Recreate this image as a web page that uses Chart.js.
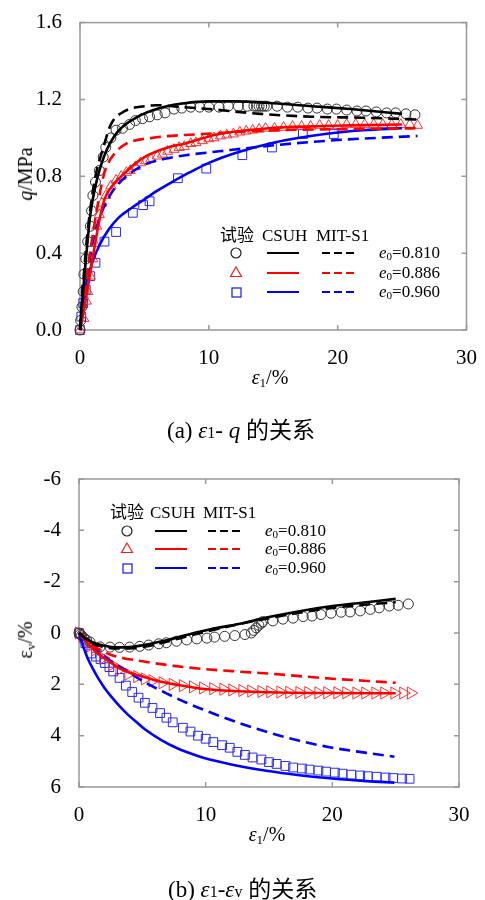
<!DOCTYPE html>
<html>
<head>
<meta charset="utf-8">
<script src="https://cdn.jsdelivr.net/npm/chart.js@4.4.0/dist/chart.umd.min.js"></script>
<style>
  body { margin: 0; background: #fff; width: 485px; height: 900px; position: relative; overflow: hidden;
         font-family: "Liberation Serif", "Noto Sans CJK SC", serif; color: #000; }
  canvas { position: absolute; left: 0; }
  .t { position: absolute; white-space: nowrap; line-height: 1; transform: translateY(-50%); }
  .lg { font-size: 17px; }
  .s { position: absolute; overflow: visible; }
  .ytitle { position: absolute; white-space: nowrap; line-height: 1; font-size: 20px;
            transform: translate(-50%, -50%) rotate(-90deg); }
  .xtitle { position: absolute; white-space: nowrap; line-height: 1; font-size: 20px;
            transform: translate(-50%, -50%); }
  .cap { font-size: 23px; }
  sub { font-size: 0.65em; vertical-align: -0.25em; }
</style>
</head>
<body>

<canvas id="chartA" width="485" height="400" style="top:0"></canvas>
<canvas id="chartB" width="485" height="410" style="top:450px"></canvas>

<!-- axis titles -->
<div class="ytitle" style="left:25px;top:174px"><i>q</i>/MPa</div>
<div class="xtitle" style="left:270px;top:378px"><i>ε</i><sub>1</sub>/%</div>
<div class="ytitle" style="left:26px;top:640px">ε<sub>v</sub>/%</div>
<div class="xtitle" style="left:267px;top:835px"><i>ε</i><sub>1</sub>/%</div>

<!-- captions -->
<div class="t cap" style="left:167px;top:430px">(a) <i>ε</i><span style="font-size:16px">1</span>- <i>q</i> 的关系</div>
<div class="t cap" style="left:168px;top:889px">(b) <i>ε</i><span style="font-size:16px">1</span>-<i>ε</i><span style="font-size:16px">v</span> 的关系</div>

<!-- legend (a) -->
<div class="t lg" style="left:220px;top:235px">试验</div>
<div class="t lg" style="left:262px;top:235px">CSUH</div>
<div class="t lg" style="left:316px;top:235px">MIT-S1</div>
<svg class="s" style="left:230px;top:247px" width="12" height="12"><circle cx="6" cy="6" r="5" fill="none" stroke="#222" stroke-width="1.2"/></svg>
<svg class="s" style="left:230px;top:266px" width="12" height="12"><polygon points="6,1 11.5,10.5 0.5,10.5" fill="none" stroke="#f02020" stroke-width="1.2"/></svg>
<svg class="s" style="left:231px;top:287px" width="11" height="11"><rect x="1" y="1" width="9" height="9" fill="none" stroke="#1515ee" stroke-width="1.2"/></svg>
<svg class="s" style="left:267px;top:248px" width="32" height="10"><line x1="0" y1="5" x2="32" y2="5" stroke="#000" stroke-width="2"/></svg>
<svg class="s" style="left:267px;top:268px" width="32" height="10"><line x1="0" y1="5" x2="32" y2="5" stroke="#ff0000" stroke-width="2"/></svg>
<svg class="s" style="left:267px;top:287px" width="32" height="10"><line x1="0" y1="5" x2="32" y2="5" stroke="#0000ff" stroke-width="2"/></svg>
<svg class="s" style="left:322px;top:248px" width="32" height="10"><line x1="0" y1="5" x2="32" y2="5" stroke="#000" stroke-width="2" stroke-dasharray="8 4"/></svg>
<svg class="s" style="left:322px;top:268px" width="32" height="10"><line x1="0" y1="5" x2="32" y2="5" stroke="#ff0000" stroke-width="2" stroke-dasharray="8 4"/></svg>
<svg class="s" style="left:322px;top:287px" width="32" height="10"><line x1="0" y1="5" x2="32" y2="5" stroke="#0000ff" stroke-width="2" stroke-dasharray="8 4"/></svg>
<div class="t lg" style="left:379px;top:253px"><i>e</i><sub>0</sub>=0.810</div>
<div class="t lg" style="left:379px;top:273px"><i>e</i><sub>0</sub>=0.886</div>
<div class="t lg" style="left:379px;top:292px"><i>e</i><sub>0</sub>=0.960</div>

<!-- legend (b) -->
<div class="t lg" style="left:110px;top:512px">试验</div>
<div class="t lg" style="left:150px;top:512px">CSUH</div>
<div class="t lg" style="left:203px;top:512px">MIT-S1</div>
<svg class="s" style="left:121px;top:525px" width="12" height="12"><circle cx="6" cy="6" r="5" fill="none" stroke="#222" stroke-width="1.2"/></svg>
<svg class="s" style="left:121px;top:542px" width="12" height="12"><polygon points="6,1 11.5,10.5 0.5,10.5" fill="none" stroke="#f02020" stroke-width="1.2"/></svg>
<svg class="s" style="left:122px;top:563px" width="11" height="11"><rect x="1" y="1" width="9" height="9" fill="none" stroke="#1515ee" stroke-width="1.2"/></svg>
<svg class="s" style="left:155px;top:526px" width="32" height="10"><line x1="0" y1="5" x2="32" y2="5" stroke="#000" stroke-width="2"/></svg>
<svg class="s" style="left:155px;top:544px" width="32" height="10"><line x1="0" y1="5" x2="32" y2="5" stroke="#ff0000" stroke-width="2"/></svg>
<svg class="s" style="left:155px;top:563px" width="32" height="10"><line x1="0" y1="5" x2="32" y2="5" stroke="#0000ff" stroke-width="2"/></svg>
<svg class="s" style="left:208px;top:526px" width="32" height="10"><line x1="0" y1="5" x2="32" y2="5" stroke="#000" stroke-width="2" stroke-dasharray="8 4"/></svg>
<svg class="s" style="left:208px;top:544px" width="32" height="10"><line x1="0" y1="5" x2="32" y2="5" stroke="#ff0000" stroke-width="2" stroke-dasharray="8 4"/></svg>
<svg class="s" style="left:208px;top:563px" width="32" height="10"><line x1="0" y1="5" x2="32" y2="5" stroke="#0000ff" stroke-width="2" stroke-dasharray="8 4"/></svg>
<div class="t lg" style="left:265px;top:531px"><i>e</i><sub>0</sub>=0.810</div>
<div class="t lg" style="left:265px;top:549px"><i>e</i><sub>0</sub>=0.886</div>
<div class="t lg" style="left:265px;top:568px"><i>e</i><sub>0</sub>=0.960</div>

<script>
// ---------- shared axis ticks ----------
const xTicks = [0, 10, 20, 30];
const qTicks = [0, 0.4, 0.8, 1.2, 1.6];
const evTicks = [-6, -4, -2, 0, 2, 4, 6];

// ---------- (a) eps1 - q : test data ----------
const aTest810X = [0, 0.05, 0.15, 0.25, 0.3, 0.45, 0.6, 0.8, 0.9, 1.0, 1.2, 1.5, 1.8, 2.0, 2.4, 2.8, 3.3, 3.85, 4.3, 4.85,
  5.4, 6.0, 6.6, 7.3, 7.9, 8.6, 9.3, 10.0, 10.8, 11.5, 12.3, 13.0, 13.5, 13.7, 13.9, 14.1, 14.3, 14.5, 15.3, 16.1,
  16.9, 17.7, 18.4, 19.2, 19.9, 20.7, 21.5, 22.2, 23.0, 23.8, 24.5, 25.3, 26.0];
const aTest810Y = [0, 0.05, 0.12, 0.2, 0.29, 0.37, 0.46, 0.54, 0.62, 0.70, 0.77, 0.83, 0.90, 0.95, 1.00, 1.04, 1.05, 1.07, 1.09, 1.10,
  1.11, 1.12, 1.13, 1.15, 1.155, 1.16, 1.16, 1.16, 1.16, 1.165, 1.165, 1.165, 1.165, 1.165, 1.165, 1.165, 1.165, 1.165, 1.165, 1.16,
  1.16, 1.155, 1.155, 1.15, 1.15, 1.145, 1.14, 1.14, 1.135, 1.13, 1.13, 1.125, 1.12];

const aTest886X = [0, 0.3, 0.5, 0.6, 0.8, 1.0, 1.15, 1.3, 1.5, 1.7, 2.0, 2.4, 2.8, 3.2, 3.6, 3.9, 4.3, 4.7, 5.1, 5.5,
  6.0, 6.4, 6.8, 7.3, 7.7, 8.1, 8.6, 9.0, 9.5, 10.0, 10.4, 10.9, 11.4, 11.9, 12.4, 12.9, 13.4, 13.9, 14.4, 15.1,
  15.8, 16.5, 17.2, 17.9, 18.6, 19.3, 20.0, 20.7, 21.4, 22.1, 22.8, 23.5, 24.2, 24.9, 25.6, 26.2];
const aTest886Y = [0, 0.06, 0.15, 0.2, 0.28, 0.37, 0.45, 0.54, 0.6, 0.66, 0.70, 0.75, 0.78, 0.80, 0.82, 0.83, 0.85, 0.87, 0.88, 0.89,
  0.905, 0.915, 0.93, 0.94, 0.95, 0.955, 0.97, 0.975, 0.985, 0.995, 1.0, 1.01, 1.015, 1.02, 1.03, 1.035, 1.04, 1.045, 1.05, 1.05,
  1.055, 1.06, 1.06, 1.06, 1.065, 1.065, 1.065, 1.07, 1.07, 1.07, 1.07, 1.07, 1.07, 1.07, 1.07, 1.065];

const aTest960X = [0, 0.1, 0.25, 0.45, 0.8, 1.2, 1.9, 2.8, 4.1, 4.9, 5.4, 7.6, 9.8, 12.6, 14.9, 17.3, 19.7];
const aTest960Y = [0, 0.07, 0.14, 0.21, 0.28, 0.35, 0.46, 0.51, 0.61, 0.65, 0.67, 0.79, 0.84, 0.91, 0.95, 1.02, 1.02];

// ---------- (a) model curves ----------
const aCsuh810X = [0, 0.2, 0.5, 0.8, 1.2, 1.9, 2.9, 4.5, 6.2, 8.1, 10, 12, 15, 18, 21, 25];
const aCsuh810Y = [0, 0.17, 0.4, 0.6, 0.75, 0.91, 1.03, 1.11, 1.155, 1.18, 1.19, 1.19, 1.18, 1.165, 1.15, 1.125];
const aMit810X = [0, 0.2, 0.5, 0.8, 1.2, 1.77, 2.4, 3.5, 5.0, 6.0, 8, 10, 14, 18, 22, 26.2];
const aMit810Y = [0, 0.2, 0.45, 0.63, 0.8, 0.94, 1.07, 1.14, 1.165, 1.17, 1.16, 1.15, 1.125, 1.11, 1.105, 1.095];

const aCsuh886X = [0, 0.3, 0.6, 1.0, 1.5, 1.9, 2.5, 3.2, 4, 5, 6.8, 8.1, 10.8, 14.6, 18, 21, 25];
const aCsuh886Y = [0, 0.1, 0.22, 0.38, 0.57, 0.68, 0.75, 0.80, 0.85, 0.90, 0.95, 0.97, 1.02, 1.05, 1.06, 1.065, 1.07];
const aMit886X = [0, 0.3, 0.6, 1.0, 1.4, 1.9, 2.7, 3.6, 5.6, 9.5, 15.4, 20, 26.2];
const aMit886Y = [0, 0.15, 0.32, 0.5, 0.66, 0.82, 0.92, 0.97, 1.0, 1.02, 1.04, 1.045, 1.05];

const aCsuh960X = [0, 0.2, 0.5, 1.0, 1.5, 2.2, 3.0, 4.0, 5.0, 6.0, 7.0, 8.5, 10, 12, 15, 19, 22, 25];
const aCsuh960Y = [0, 0.13, 0.25, 0.36, 0.44, 0.52, 0.585, 0.635, 0.68, 0.725, 0.765, 0.82, 0.87, 0.92, 0.975, 1.02, 1.04, 1.05];
const aMit960X = [0, 0.3, 0.6, 1.0, 1.5, 2.0, 2.5, 3.5, 5.0, 6.5, 8.2, 10.8, 13.4, 16.4, 20.3, 26.2];
const aMit960Y = [0, 0.15, 0.3, 0.46, 0.58, 0.66, 0.72, 0.795, 0.86, 0.89, 0.91, 0.93, 0.95, 0.97, 0.99, 1.01];

// ---------- (b) eps1 - epsv : test data ----------
const bTest810X = [0, 0.1, 0.2, 0.4, 0.6, 0.87, 1.66, 2.45, 3.2, 4.0, 4.8, 5.5, 6.3, 6.9, 7.7, 8.5, 9.3, 10.1, 10.7, 11.5,
  12.3, 13.1, 13.6, 13.8, 14.0, 14.2, 14.4, 14.5, 15.3, 16.1, 16.9, 17.7, 18.4, 19.1, 19.9, 20.7, 21.4, 22.2, 23.0, 23.7,
  24.5, 25.2, 26.0];
const bTest810Y = [0, 0.05, 0.1, 0.2, 0.28, 0.35, 0.54, 0.55, 0.56, 0.55, 0.52, 0.47, 0.42, 0.38, 0.32, 0.27, 0.23, 0.2, 0.16, 0.13,
  0.1, 0.06, 0.0, -0.1, -0.2, -0.3, -0.38, -0.44, -0.47, -0.54, -0.58, -0.64, -0.66, -0.72, -0.77, -0.81, -0.82, -0.86, -0.92, -0.98,
  -1.05, -1.08, -1.13];

const bTest886X = [0, 0.3, 0.6, 0.9, 1.26, 1.9, 2.6, 3.2, 3.9, 4.6, 5.2, 5.8, 6.6, 7.4, 8.2, 9.0, 9.8, 10.6, 11.4, 12.1,
  12.9, 13.6, 14.4, 15.1, 15.9, 16.6, 17.4, 18.1, 18.9, 19.6, 20.4, 21.1, 21.9, 22.6, 23.4, 24.1, 24.9, 25.6, 26.2];
const bTest886Y = [0, 0.15, 0.35, 0.5, 0.66, 0.98, 1.24, 1.42, 1.6, 1.7, 1.79, 1.86, 1.94, 2.0, 2.05, 2.1, 2.14, 2.17, 2.19, 2.22,
  2.24, 2.26, 2.28, 2.29, 2.3, 2.31, 2.32, 2.32, 2.33, 2.33, 2.33, 2.33, 2.34, 2.34, 2.34, 2.34, 2.34, 2.34, 2.34];

const bTest960X = [0, 0.5, 0.95, 1.35, 1.7, 2.05, 2.4, 2.7, 3.2, 3.7, 4.2, 4.7, 5.2, 5.8, 6.4, 6.9, 7.4, 8.2, 8.8, 9.4,
  10.0, 10.6, 11.3, 11.9, 12.5, 13.1, 13.7, 14.4, 15.0, 15.6, 16.3, 16.9, 17.6, 18.2, 18.9, 19.5, 20.2, 20.8, 21.5, 22.2,
  22.8, 23.5, 24.2, 24.8, 25.5, 26.1];
const bTest960Y = [0, 0.4, 0.8, 0.92, 1.02, 1.17, 1.33, 1.5, 1.75, 2.05, 2.3, 2.52, 2.72, 2.92, 3.12, 3.3, 3.48, 3.69, 3.84, 4.0,
  4.12, 4.25, 4.37, 4.47, 4.63, 4.75, 4.85, 4.93, 5.03, 5.1, 5.18, 5.24, 5.28, 5.32, 5.36, 5.4, 5.44, 5.48, 5.52, 5.55,
  5.58, 5.6, 5.63, 5.65, 5.67, 5.68];

// ---------- (b) model curves ----------
const bCsuh810X = [0, 0.5, 1, 2, 3, 4, 5, 6, 7, 7.8, 9.5, 10.4, 12.6, 14.8, 17.4, 20, 22.7, 25];
const bCsuh810Y = [0, 0.2, 0.35, 0.5, 0.56, 0.55, 0.48, 0.38, 0.27, 0.17, -0.05, -0.15, -0.35, -0.6, -0.85, -1.05, -1.2, -1.33];
const bMit810X = [0, 0.5, 1, 2, 3, 4, 5, 6, 7, 8, 10, 12.5, 15, 17.5, 20, 22.5, 25];
const bMit810Y = [0, 0.22, 0.4, 0.55, 0.6, 0.6, 0.55, 0.45, 0.33, 0.2, -0.05, -0.33, -0.58, -0.8, -0.98, -1.1, -1.2];

const bCsuh886X = [0, 0.5, 1.3, 2.5, 3.2, 4.0, 5.2, 6.5, 7.8, 9.0, 10.4, 12.6, 15, 20, 25];
const bCsuh886Y = [0, 0.3, 0.72, 1.15, 1.38, 1.55, 1.72, 1.9, 2.02, 2.12, 2.2, 2.27, 2.31, 2.34, 2.35];
const bMit886X = [0, 0.7, 1.5, 2.5, 3.5, 4.6, 6, 7.5, 9.8, 12.5, 15, 17.4, 20, 22.5, 25];
const bMit886Y = [0, 0.4, 0.62, 0.85, 0.98, 1.07, 1.18, 1.28, 1.4, 1.5, 1.58, 1.68, 1.78, 1.86, 1.94];

const bCsuh960X = [0, 0.35, 0.7, 1.1, 1.5, 2.0, 2.5, 3.2, 3.9, 4.6, 5.2, 6.5, 7.8, 9.2, 10.4, 12.6, 14.8, 17.4, 20, 22.7, 24.9];
const bCsuh960Y = [0, 0.55, 1.0, 1.4, 1.75, 2.13, 2.45, 2.85, 3.2, 3.5, 3.75, 4.17, 4.5, 4.76, 4.94, 5.18, 5.37, 5.54, 5.67, 5.77, 5.83];
const bMit960X = [0, 0.7, 1.5, 2.5, 3.5, 5.2, 6.9, 8.5, 10.4, 12.6, 14.8, 17.4, 20, 22.7, 24.9];
const bMit960Y = [0, 0.4, 0.72, 1.08, 1.4, 1.92, 2.35, 2.72, 3.1, 3.5, 3.85, 4.2, 4.47, 4.67, 4.82];

// ---------- helpers ----------
const BLACK = '#000000', RED = '#ff0000', BLUE = '#0000ff';
const pts = (xs, ys) => xs.map((x, i) => ({ x: x, y: ys[i] }));

function model(xs, ys, color, dashed) {
  return {
    data: pts(xs, ys), showLine: true, borderColor: color, borderWidth: 2.6,
    borderDash: dashed ? [11, 6] : [], pointRadius: 0, pointHoverRadius: 0,
    cubicInterpolationMode: 'monotone', fill: false, clip: 8
  };
}
function test(xs, ys, color, style, r, rot) {
  return {
    data: pts(xs, ys), showLine: false, pointStyle: style, pointRadius: r, pointRotation: rot || 0,
    pointBorderColor: color, pointBackgroundColor: 'rgba(0,0,0,0)', pointBorderWidth: 1, clip: 10
  };
}

// grey frame with inward ticks on all four sides
const frameTicks = {
  id: 'frameTicks',
  beforeDatasetsDraw(chart) {
    const { ctx, chartArea: a, scales } = chart;
    ctx.save();
    ctx.strokeStyle = '#999';
    ctx.lineWidth = 1.5;
    ctx.strokeRect(a.left, a.top, a.right - a.left, a.bottom - a.top);
    ctx.beginPath();
    scales.x.ticks.forEach(t => {
      const px = scales.x.getPixelForValue(t.value);
      ctx.moveTo(px, a.bottom); ctx.lineTo(px, a.bottom - 5);
      ctx.moveTo(px, a.top); ctx.lineTo(px, a.top + 5);
    });
    scales.y.ticks.forEach(t => {
      const py = scales.y.getPixelForValue(t.value);
      ctx.moveTo(a.left, py); ctx.lineTo(a.left + 5, py);
      ctx.moveTo(a.right, py); ctx.lineTo(a.right - 5, py);
    });
    ctx.stroke();
    ctx.restore();
  }
};

const tickFont = { family: 'Liberation Serif', size: 21 };

function axes(yMin, yMax, yTicks, yFmt, reverse, yWidth, xHeight) {
  return {
    x: {
      type: 'linear', min: 0, max: 30,
      afterBuildTicks: s => { s.ticks = xTicks.map(v => ({ value: v })); },
      afterFit: s => { s.height = xHeight; },
      grid: { display: false }, border: { display: false },
      ticks: { font: tickFont, color: '#000', padding: 8, maxRotation: 0, callback: v => String(v) }
    },
    y: {
      type: 'linear', min: yMin, max: yMax, reverse: reverse,
      afterBuildTicks: s => { s.ticks = yTicks.map(v => ({ value: v })); },
      afterFit: s => { s.width = yWidth; },
      grid: { display: false }, border: { display: false },
      ticks: { font: tickFont, color: '#000', padding: 10, callback: yFmt }
    }
  };
}

const common = {
  responsive: false, animation: false, events: [],
  plugins: { legend: { display: false }, tooltip: { enabled: false } }
};

new Chart(document.getElementById('chartA'), {
  type: 'scatter',
  data: {
    datasets: [
      model(aCsuh810X, aCsuh810Y, BLACK, false),
      model(aMit810X, aMit810Y, BLACK, true),
      model(aCsuh886X, aCsuh886Y, RED, false),
      model(aMit886X, aMit886Y, RED, true),
      model(aCsuh960X, aCsuh960Y, BLUE, false),
      model(aMit960X, aMit960Y, BLUE, true),
      test(aTest810X, aTest810Y, '#333333', 'circle', 5),
      test(aTest886X, aTest886Y, '#f03535', 'triangle', 5.8),
      test(aTest960X, aTest960Y, '#2a2aee', 'rect', 6.2)
    ]
  },
  options: Object.assign({}, common, {
    layout: { padding: { top: 14, right: 16, left: 0, bottom: 0 } },
    scales: axes(0, 1.6, qTicks, v => v.toFixed(1), false, 80, 70)
  }),
  plugins: [frameTicks]
});

new Chart(document.getElementById('chartB'), {
  type: 'scatter',
  data: {
    datasets: [
      model(bCsuh810X, bCsuh810Y, BLACK, false),
      model(bMit810X, bMit810Y, BLACK, true),
      model(bCsuh886X, bCsuh886Y, RED, false),
      model(bMit886X, bMit886Y, RED, true),
      model(bCsuh960X, bCsuh960Y, BLUE, false),
      model(bMit960X, bMit960Y, BLUE, true),
      test(bTest810X, bTest810Y, '#333333', 'circle', 5),
      test(bTest886X, bTest886Y, '#f03535', 'triangle', 7, 90),
      test(bTest960X, bTest960Y, '#2a2aee', 'rect', 6.2)
    ]
  },
  options: Object.assign({}, common, {
    layout: { padding: { top: 29, right: 26, left: 0, bottom: 0 } },
    scales: axes(-6, 6, evTicks, v => String(v), true, 79, 73)
  }),
  plugins: [frameTicks]
});
</script>
</body>
</html>
